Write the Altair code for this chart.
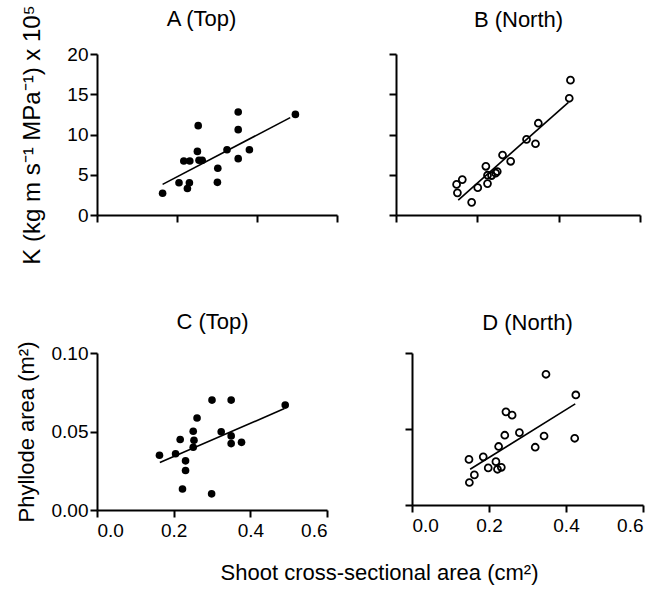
import altair as alt
import pandas as pd

FONT = "Liberation Sans"

# ---- Panel A (Top): conductance vs shoot area (filled) ----
a_x = [0.164, 0.205, 0.226, 0.231, 0.217, 0.232, 0.251, 0.253, 0.255, 0.263,
       0.302, 0.301, 0.325, 0.353, 0.353, 0.353, 0.381, 0.496]
a_y = [2.7, 4.0, 3.3, 4.0, 6.7, 6.7, 7.9, 11.1, 6.8, 6.8,
       5.8, 4.06, 8.1, 12.8, 10.6, 7.0, 8.1, 12.5]
a_fit_x = [0.164, 0.483]
a_fit_y = [3.8, 12.1]

# ---- Panel B (North): conductance vs shoot area (open) ----
b_x = [0.149, 0.151, 0.163, 0.186, 0.201, 0.221, 0.225, 0.225, 0.235, 0.245,
       0.249, 0.262, 0.282, 0.321, 0.343, 0.350, 0.426, 0.429]
b_y = [3.8, 2.75, 4.4, 1.57, 3.4, 6.05, 3.9, 4.94, 4.9, 5.2,
       5.4, 7.45, 6.67, 9.4, 8.85, 11.4, 14.5, 16.75]
b_fit_x = [0.153, 0.424]
b_fit_y = [1.85, 14.0]

# ---- Panel C (Top): phyllode area vs shoot area (filled) ----
c_x = [0.163, 0.205, 0.217, 0.231, 0.231, 0.223, 0.251, 0.253, 0.251, 0.261,
       0.300, 0.350, 0.324, 0.350, 0.350, 0.377, 0.299, 0.491]
c_y = [0.0349, 0.0358, 0.0449, 0.0313, 0.0252, 0.0134, 0.0502, 0.0444, 0.0400, 0.0586,
       0.0700, 0.0700, 0.0498, 0.0472, 0.0423, 0.0431, 0.0103, 0.0668]
c_fit_x = [0.164, 0.489]
c_fit_y = [0.0302, 0.0646]

# ---- Panel D (North): phyllode area vs shoot area (open) ----
d_x = [0.348, 0.4255, 0.4226, 0.244, 0.260, 0.279, 0.241, 0.343, 0.320, 0.225,
       0.185, 0.148, 0.218, 0.198, 0.222, 0.232, 0.162, 0.149]
d_y = [0.0860, 0.0724, 0.0439, 0.0613, 0.0591, 0.0476, 0.0459, 0.0454, 0.0380, 0.0385,
       0.0317, 0.0300, 0.0285, 0.0244, 0.0235, 0.0248, 0.0198, 0.0148]
d_fit_x = [0.151, 0.424]
d_fit_y = [0.0235, 0.0665]

x_ticks = [0.0, 0.2, 0.4, 0.6]
k_ticks = [0, 5, 10, 15, 20]
p_ticks = [0.0, 0.05, 0.10]


def panel(xs, ys, fx, fy, filled, title, ydom, yvals, yfmt, ytitle,
          xlabels, ylabels, w, h, title_x, title_pad, ytp, ytitle_size=22):
    pts = pd.DataFrame({"x": xs, "y": ys})
    fit = pd.DataFrame({"x": fx, "y": fy})
    xscale = alt.Scale(domain=[0, 0.6], nice=False, zero=False)
    yscale = alt.Scale(domain=ydom, nice=False, zero=False)
    bottom_axis = alt.Axis(values=x_ticks, format=".1f", labels=xlabels,
                           labelPadding=4, title=None)
    if ytitle:
        yaxis = alt.Axis(values=yvals, format=yfmt, labels=ylabels,
                         title=ytitle, titlePadding=ytp,
                         titleFontSize=ytitle_size)
    else:
        yaxis = alt.Axis(values=yvals, format=yfmt, labels=ylabels, title=None)
    yenc = alt.Y("y:Q", scale=yscale, axis=yaxis)
    if filled:
        pm = alt.Chart(pts).mark_point(shape="circle", filled=True, size=58,
                                       color="black", opacity=1)
    else:
        pm = alt.Chart(pts).mark_point(shape="circle", filled=False, size=48,
                                       color="black", strokeWidth=1.8,
                                       opacity=1)
    points = pm.encode(x=alt.X("x:Q", scale=xscale, axis=bottom_axis), y=yenc)
    # a label-less top axis carries the panel title
    top_axis = alt.Axis(orient="top", title=title, domain=False, ticks=False,
                        labels=False, titlePadding=title_pad, titleFontSize=22,
                        titleX=title_x)
    line = alt.Chart(fit).mark_line(color="black", strokeWidth=1.6).encode(
        x=alt.X("x:Q", scale=xscale, axis=top_axis), y=yenc)
    return alt.layer(points, line).resolve_axis(x="independent").properties(
        width=w, height=h)


A = panel(a_x, a_y, a_fit_x, a_fit_y, True, "A (Top)", [0, 20], k_ticks, "d",
          "K (kg m s\u207b\u00b9 MPa\u207b\u00b9) x 10\u2075",
          False, True, 240, 161, 104, 24, 22, 24)
B = panel(b_x, b_y, b_fit_x, b_fit_y, False, "B (North)", [0, 20], k_ticks, "d",
          None, False, False, 244, 161, 122, 23, 0)
C = panel(c_x, c_y, c_fit_x, c_fit_y, True, "C (Top)", [0, 0.1], p_ticks, ".2f",
          "Phyllode area (m\u00b2)", True, True, 230, 157, 115, 20, 13)
D = panel(d_x, d_y, d_fit_x, d_fit_y, False, "D (North)", [0, 0.1], p_ticks, ".2f",
          None, True, False, 231, 152, 115, 19, 0)

row1 = alt.hconcat(A, B, spacing=50)
row2 = alt.hconcat(C, D, spacing=76)

chart = alt.vconcat(row1, row2, spacing=45).properties(
    title=alt.TitleParams("Shoot cross-sectional area (cm\u00b2)", orient="bottom",
                          anchor="middle", fontSize=22, offset=23, dx=50),
    padding={"left": 15, "top": 4, "right": 5, "bottom": 5},
).configure_view(stroke=None).configure_axis(
    domainColor="black", domainWidth=2, tickColor="black", tickWidth=2,
    tickSize=7, labelFont=FONT, labelFontSize=19, labelColor="black",
    labelPadding=2, titleFont=FONT, titleFontSize=22, titleFontWeight="normal",
    titleColor="black", grid=False,
).configure_title(font=FONT, fontSize=22, fontWeight="normal", color="black")

chart.save("out.html", embed_options={"renderer": "svg", "actions": False})
